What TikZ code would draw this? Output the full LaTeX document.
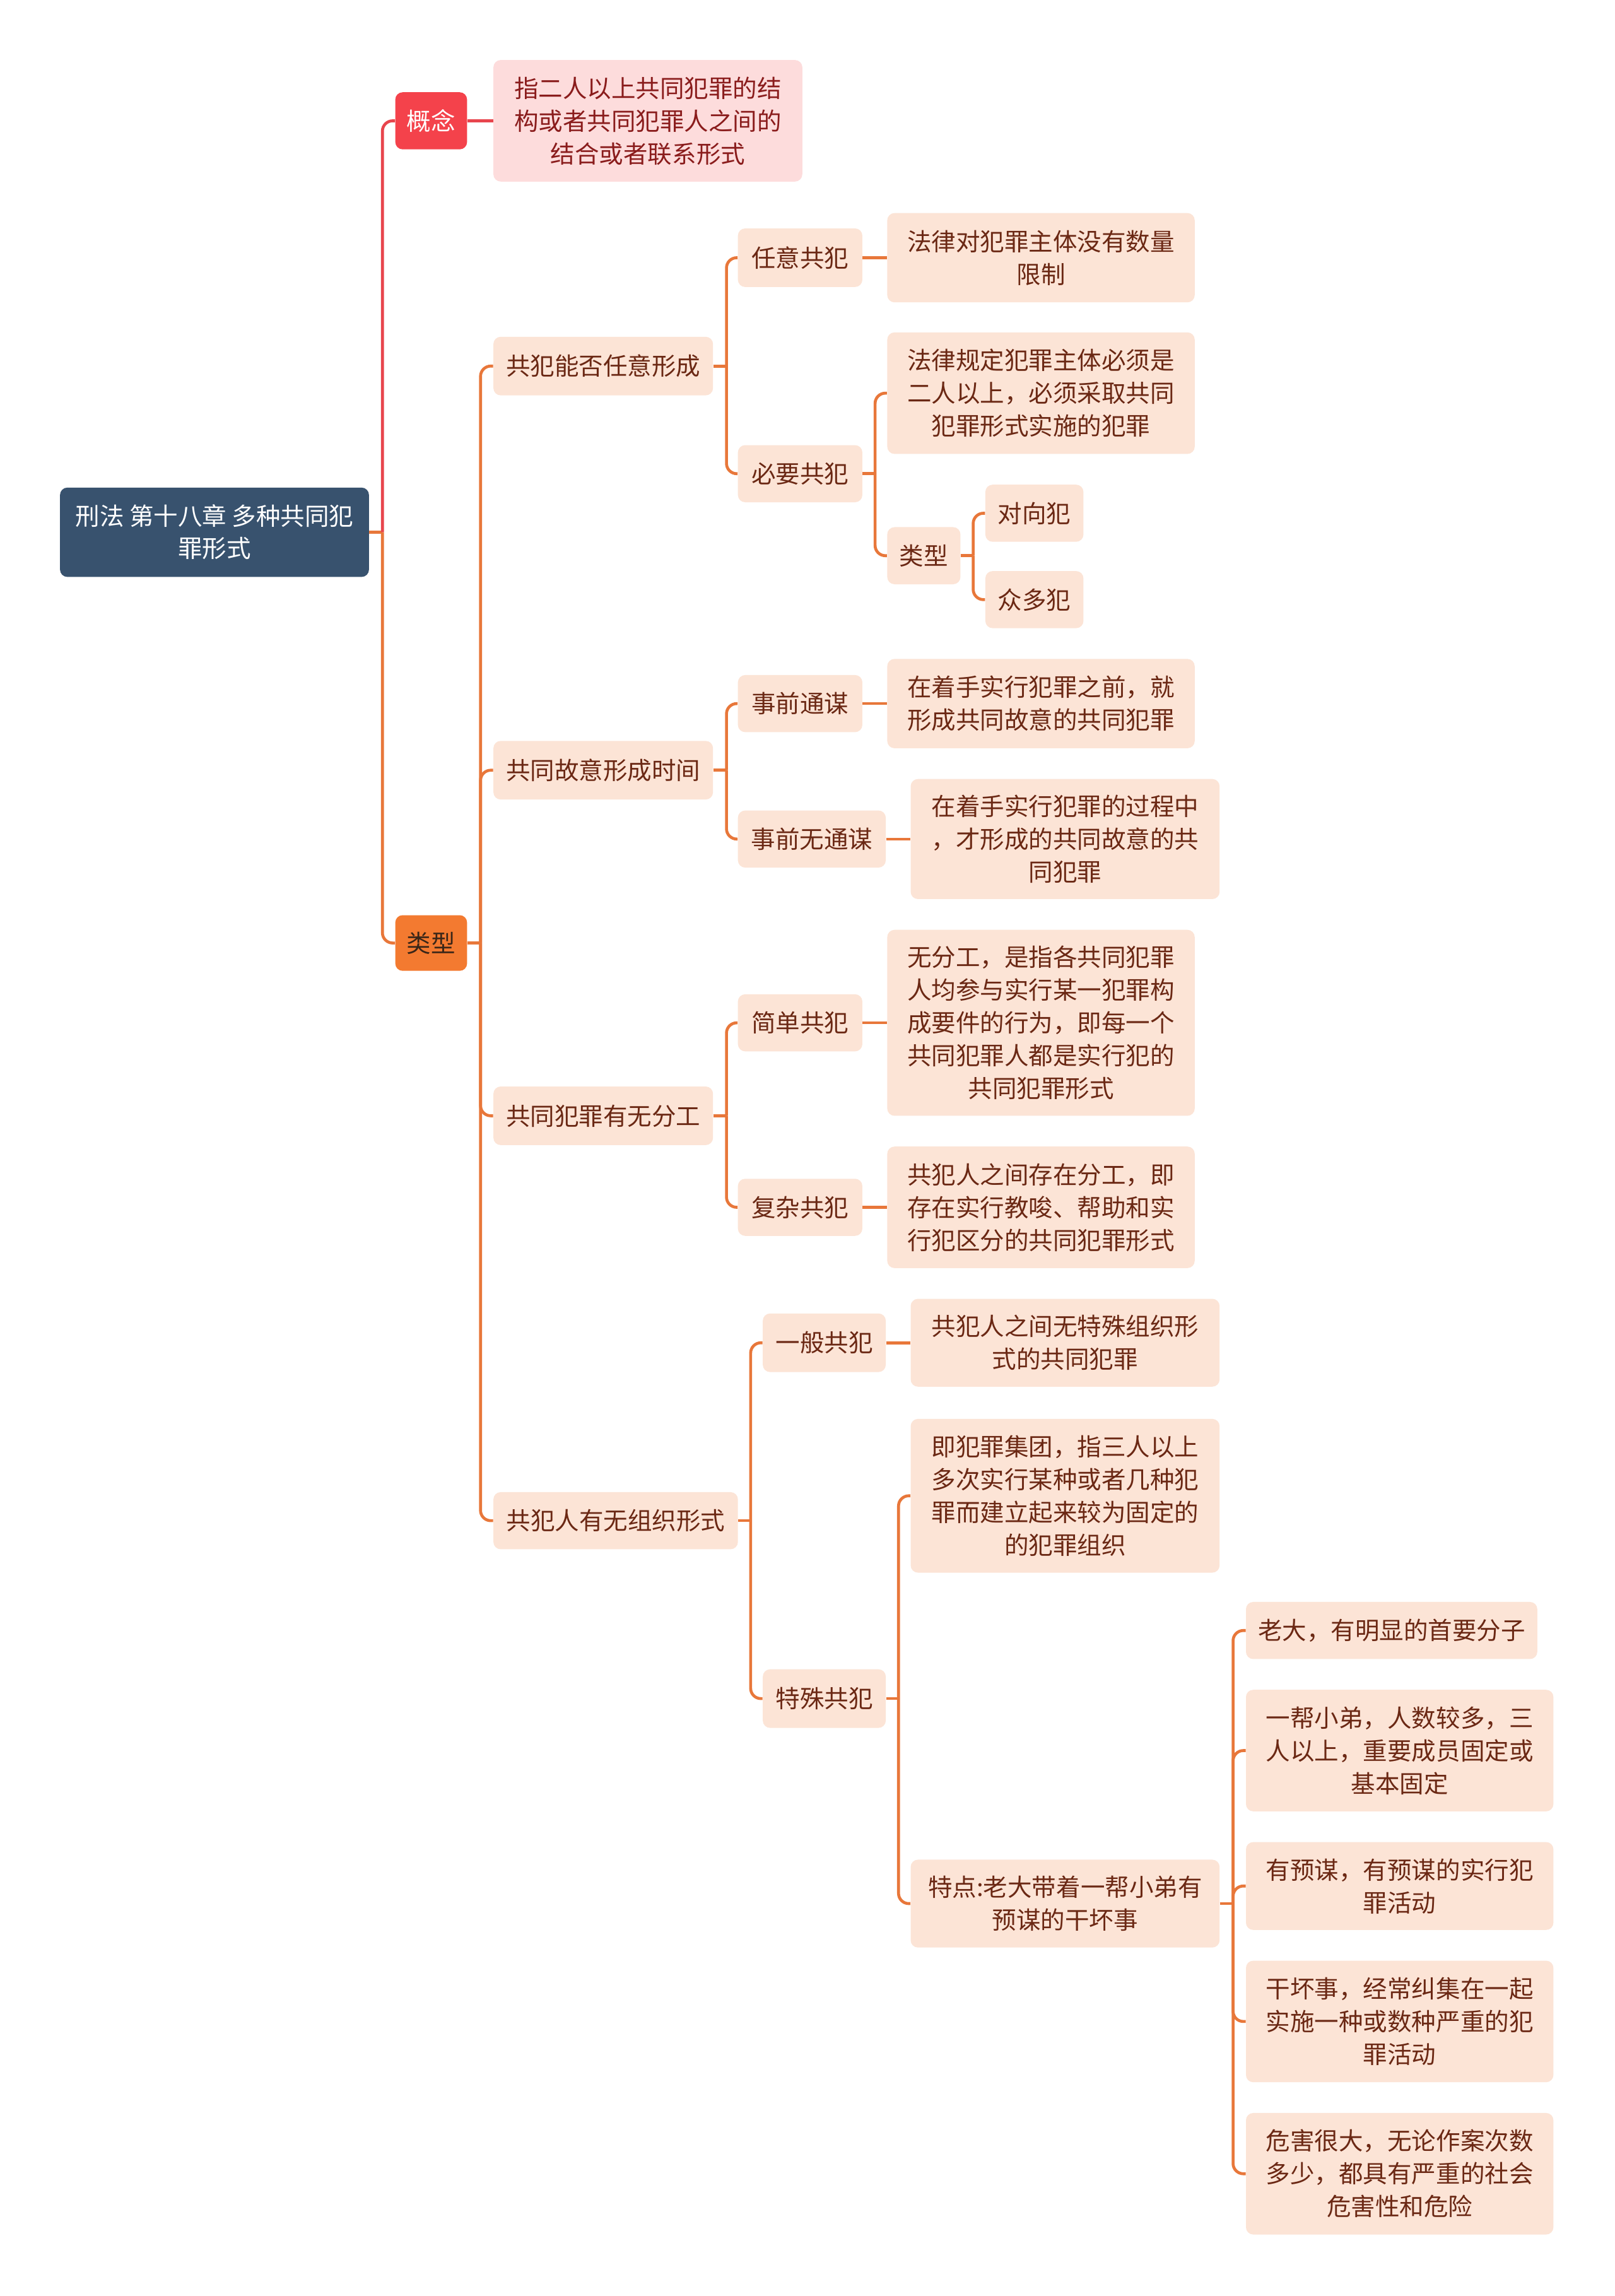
\documentclass[tikz,border=0pt]{standalone}
\usepackage{fontspec}
\setmainfont{Noto Sans CJK SC}
\definecolor{rootc}{HTML}{38526E}
\definecolor{redc}{HTML}{F4424B}
\definecolor{redline}{HTML}{E8454D}
\definecolor{pinkc}{HTML}{FDDCDC}
\definecolor{pinktxt}{HTML}{8A1C1C}
\definecolor{orangec}{HTML}{F37A30}
\definecolor{orangeline}{HTML}{E8773A}
\definecolor{peachc}{HTML}{FCE4D6}
\definecolor{peachtxt}{HTML}{6B2814}
\definecolor{darktxt}{HTML}{3A2618}
\newcommand\nodefont{\fontsize{16.6pt}{22.4pt}\selectfont}
\newcommand\rootfont{\fontsize{16.6pt}{22pt}\selectfont}
\tikzset{
  basebox/.style={rectangle, rounded corners=5pt, inner sep=0pt, align=center, font=\nodefont},
  rootbox/.style={basebox, fill=rootc, text=white, font=\rootfont},
  redbox/.style={basebox, fill=redc, text=white},
  pinkbox/.style={basebox, fill=pinkc, text=pinktxt},
  orangebox/.style={basebox, fill=orangec, text=darktxt},
  peachbox/.style={basebox, fill=peachc, text=peachtxt},
  conn/.style={draw=orangeline, line width=2pt, rounded corners=7pt},
  connred/.style={draw=redline, line width=2pt, rounded corners=7pt},
}
\begin{document}
\begin{tikzpicture}[x=1pt,y=-1pt]
\useasboundingbox[fill=white] (0,0) rectangle (1103,1568);

% root and level 1
\node[rootbox, minimum width=211pt, minimum height=61pt] (root) at (146.5,363.5) {刑法 第十八章 多种共同犯\\罪形式};
\node[redbox, minimum width=49pt, minimum height=39pt] (gn) at (294.5,82.5) {概念};
\node[pinkbox, minimum width=211pt, minimum height=83pt] (gnleaf) at (442.5,82.5) {指二人以上共同犯罪的结\\构或者共同犯罪人之间的\\结合或者联系形式};
\node[orangebox, minimum width=49pt, minimum height=38pt] (lx) at (294.5,644) {类型};

% level 2
\node[peachbox, minimum width=150pt, minimum height=40pt] (A) at (412,250) {共犯能否任意形成};
\node[peachbox, minimum width=150pt, minimum height=40pt] (B) at (412,526) {共同故意形成时间};
\node[peachbox, minimum width=150pt, minimum height=40pt] (C) at (412,762) {共同犯罪有无分工};
\node[peachbox, minimum width=167pt, minimum height=39pt] (D) at (420.5,1038.5) {共犯人有无组织形式};

% level 3
\node[peachbox, minimum width=85pt, minimum height=40pt] (A1) at (546.5,176) {任意共犯};
\node[peachbox, minimum width=85pt, minimum height=39pt] (A2) at (546.5,323.5) {必要共犯};
\node[peachbox, minimum width=85pt, minimum height=39pt] (B1) at (546.5,480.5) {事前通谋};
\node[peachbox, minimum width=101pt, minimum height=39pt] (B2) at (554.5,573) {事前无通谋};
\node[peachbox, minimum width=85pt, minimum height=39pt] (C1) at (546.5,698.5) {简单共犯};
\node[peachbox, minimum width=85pt, minimum height=39pt] (C2) at (546.5,824.5) {复杂共犯};
\node[peachbox, minimum width=84pt, minimum height=40pt] (D1) at (563,917) {一般共犯};
\node[peachbox, minimum width=84pt, minimum height=40pt] (D2) at (563,1160) {特殊共犯};

% level 4
\node[peachbox, minimum width=210pt, minimum height=61pt] (A1a) at (711,176) {法律对犯罪主体没有数量\\限制};
\node[peachbox, minimum width=210pt, minimum height=83pt] (A2a) at (711,268.5) {法律规定犯罪主体必须是\\二人以上，必须采取共同\\犯罪形式实施的犯罪};
\node[peachbox, minimum width=50pt, minimum height=39pt] (A2b) at (631,379.5) {类型};
\node[peachbox, minimum width=210pt, minimum height=61pt] (B1a) at (711,480.5) {在着手实行犯罪之前，就\\形成共同故意的共同犯罪};
\node[peachbox, minimum width=211pt, minimum height=82pt] (B2a) at (727.5,573) {在着手实行犯罪的过程中\\，才形成的共同故意的共\\同犯罪};
\node[peachbox, minimum width=210pt, minimum height=127pt] (C1a) at (711,698.5) {无分工，是指各共同犯罪\\人均参与实行某一犯罪构\\成要件的行为，即每一个\\共同犯罪人都是实行犯的\\共同犯罪形式};
\node[peachbox, minimum width=210pt, minimum height=83pt] (C2a) at (711,824.5) {共犯人之间存在分工，即\\存在实行教唆、帮助和实\\行犯区分的共同犯罪形式};
\node[peachbox, minimum width=211pt, minimum height=60pt] (D1a) at (727.5,917) {共犯人之间无特殊组织形\\式的共同犯罪};
\node[peachbox, minimum width=211pt, minimum height=105pt] (D2a) at (727.5,1021.5) {即犯罪集团，指三人以上\\多次实行某种或者几种犯\\罪而建立起来较为固定的\\的犯罪组织};
\node[peachbox, minimum width=211pt, minimum height=60pt] (D2b) at (727.5,1300) {特点:老大带着一帮小弟有\\预谋的干坏事};

% level 5
\node[peachbox, minimum width=67pt, minimum height=39pt] (T1) at (706.5,350.5) {对向犯};
\node[peachbox, minimum width=67pt, minimum height=39pt] (T2) at (706.5,409.5) {众多犯};
\node[peachbox, minimum width=199pt, minimum height=39pt] (E1) at (950.5,1113.5) {老大，有明显的首要分子};
\node[peachbox, minimum width=210pt, minimum height=83pt] (E2) at (956,1195.5) {一帮小弟，人数较多，三\\人以上，重要成员固定或\\基本固定};
\node[peachbox, minimum width=210pt, minimum height=60pt] (E3) at (956,1288) {有预谋，有预谋的实行犯\\罪活动};
\node[peachbox, minimum width=210pt, minimum height=83pt] (E4) at (956,1380.5) {干坏事，经常纠集在一起\\实施一种或数种严重的犯\\罪活动};
\node[peachbox, minimum width=210pt, minimum height=83pt] (E5) at (956,1484.5) {危害很大，无论作案次数\\多少，都具有严重的社会\\危害性和危险};

% connectors: root
\draw[conn] (root.east) -- ++(9,0) coordinate (j0);
\draw[connred] (j0) |- (gn.west);
\draw[conn] (j0) |- (lx.west);
\draw[connred] (gn.east) -- (gnleaf.west);

% 类型 -> level 2
\draw[conn] (lx.east) -- ++(9,0) coordinate (jL);
\foreach \c in {A,B,C,D} \draw[conn] (jL) |- (\c.west);

% A
\draw[conn] (A.east) -- ++(9,0) coordinate (jA);
\foreach \c in {A1,A2} \draw[conn] (jA) |- (\c.west);
\draw[conn] (A1.east) -- (A1a.west);
\draw[conn] (A2.east) -- ++(8.5,0) coordinate (jA2);
\foreach \c in {A2a,A2b} \draw[conn] (jA2) |- (\c.west);
\draw[conn] (A2b.east) -- ++(8.5,0) coordinate (jA2b);
\foreach \c in {T1,T2} \draw[conn] (jA2b) |- (\c.west);

% B
\draw[conn] (B.east) -- ++(9,0) coordinate (jB);
\foreach \c in {B1,B2} \draw[conn] (jB) |- (\c.west);
\draw[conn] (B1.east) -- (B1a.west);
\draw[conn] (B2.east) -- (B2a.west);

% C
\draw[conn] (C.east) -- ++(9,0) coordinate (jC);
\foreach \c in {C1,C2} \draw[conn] (jC) |- (\c.west);
\draw[conn] (C1.east) -- (C1a.west);
\draw[conn] (C2.east) -- (C2a.west);

% D
\draw[conn] (D.east) -- ++(8.5,0) coordinate (jD);
\foreach \c in {D1,D2} \draw[conn] (jD) |- (\c.west);
\draw[conn] (D1.east) -- (D1a.west);
\draw[conn] (D2.east) -- ++(8.5,0) coordinate (jD2);
\foreach \c in {D2a,D2b} \draw[conn] (jD2) |- (\c.west);
\draw[conn] (D2b.east) -- ++(9,0) coordinate (jE);
\foreach \c in {E1,E2,E3,E4,E5} \draw[conn] (jE) |- (\c.west);
\end{tikzpicture}
\end{document}
